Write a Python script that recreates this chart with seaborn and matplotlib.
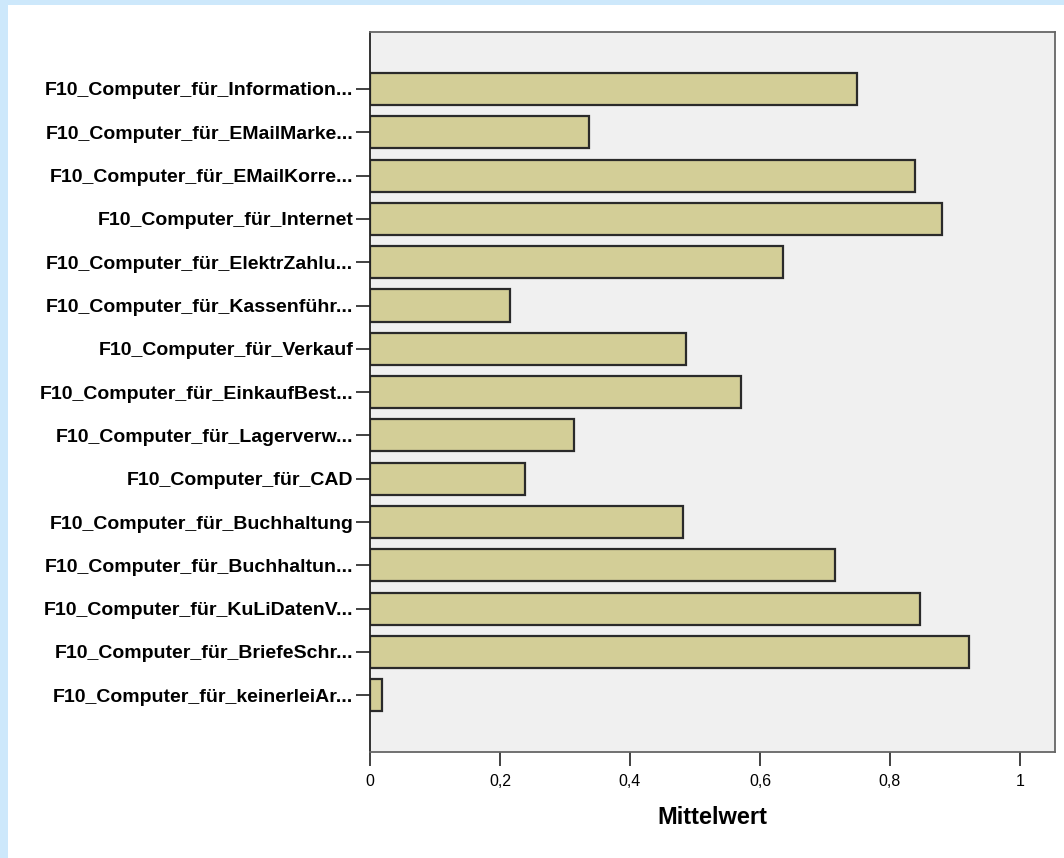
import matplotlib
matplotlib.use("Agg")
import matplotlib.pyplot as plt
import seaborn as sns
import pandas as pd
from matplotlib.patches import Rectangle

# Mittelwerte der Variablen F10
kategorien = [
    "F10_Computer_für_Information...",
    "F10_Computer_für_EMailMarke...",
    "F10_Computer_für_EMailKorre...",
    "F10_Computer_für_Internet",
    "F10_Computer_für_ElektrZahlu...",
    "F10_Computer_für_Kassenführ...",
    "F10_Computer_für_Verkauf",
    "F10_Computer_für_EinkaufBest...",
    "F10_Computer_für_Lagerverw...",
    "F10_Computer_für_CAD",
    "F10_Computer_für_Buchhaltung",
    "F10_Computer_für_Buchhaltun...",
    "F10_Computer_für_KuLiDatenV...",
    "F10_Computer_für_BriefeSchr...",
    "F10_Computer_für_keinerleiAr...",
]
mittelwerte = [0.749, 0.337, 0.838, 0.880, 0.636, 0.216, 0.486, 0.571,
               0.314, 0.239, 0.482, 0.716, 0.847, 0.922, 0.019]
x_ticks = [0, 0.2, 0.4, 0.6, 0.8, 1.0]
x_tick_labels = ["0", "0,2", "0,4", "0,6", "0,8", "1"]

df = pd.DataFrame({"Variable": kategorien, "Mittelwert": mittelwerte})

sns.set_style("white")
plt.rcParams["font.family"] = ["Liberation Sans", "DejaVu Sans"]
plt.rcParams["text.color"] = "black"
plt.rcParams["axes.labelcolor"] = "black"
plt.rcParams["xtick.color"] = "black"
plt.rcParams["ytick.color"] = "black"

fig = plt.figure(figsize=(10.64, 8.58), dpi=100)
fig.patch.set_facecolor("white")

# hellblauer Rahmen oben und links
fig.patches.append(Rectangle((0, 0), 8 / 1064, 1, transform=fig.transFigure,
                             facecolor="#cde8fb", edgecolor="none", zorder=0))
fig.patches.append(Rectangle((0, 1 - 5 / 858), 1, 5 / 858, transform=fig.transFigure,
                             facecolor="#cde8fb", edgecolor="none", zorder=0))

ax = fig.add_axes([370 / 1064, 1 - 752 / 858, (1055 - 370) / 1064, (752 - 32) / 858])
ax.set_facecolor("#f0f0f0")

sns.barplot(data=df, x="Mittelwert", y="Variable", orient="h", ax=ax,
            color="#d3ce97", saturation=1, edgecolor="#2a2a2a", linewidth=1.6,
            width=0.74, errorbar=None)

ax.set_xlim(0, 1.054)
ax.set_ylim(len(kategorien) - 1 + 1.31, -1.316)

ax.set_xticks(x_ticks)
ax.set_xticklabels(x_tick_labels, fontsize=11.5)
ax.set_yticks(range(len(kategorien)))
ax.set_yticklabels(kategorien, fontsize=14, fontweight="bold")

ax.tick_params(axis="x", direction="out", length=10, width=1.3, color="#333333", pad=6, bottom=True)
ax.tick_params(axis="y", direction="out", length=10, width=1.3, color="#333333", pad=2, left=True)

ax.set_xlabel("Mittelwert", fontsize=17, fontweight="bold", labelpad=12)
ax.set_ylabel("")

for side in ["top", "right", "bottom"]:
    ax.spines[side].set_color("#666666")
    ax.spines[side].set_linewidth(1.3)
    ax.spines[side].set_visible(True)
ax.spines["left"].set_color("#222222")
ax.spines["left"].set_linewidth(1.3)
ax.spines["left"].set_visible(True)

fig.savefig("out.png", dpi=100, facecolor=fig.get_facecolor())
